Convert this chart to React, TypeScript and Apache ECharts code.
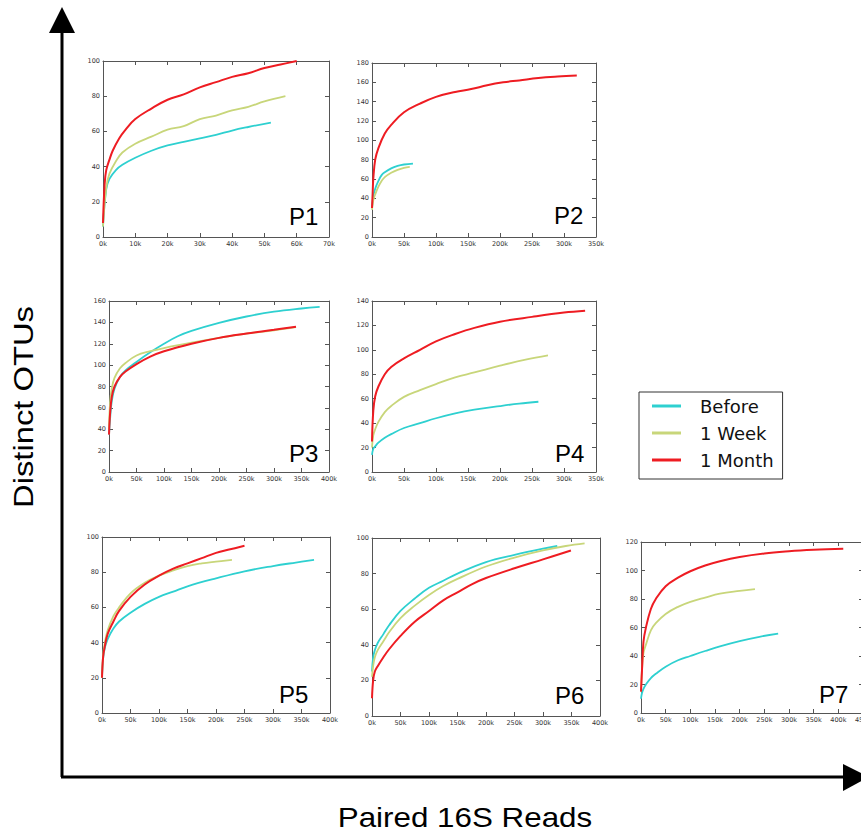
import React, { useEffect, useRef } from "react";
import * as echarts from "echarts";

// ---------- data (reads, distinct OTUs) ----------
const seriesNames = ["Before", "1 Week", "1 Month"];
const panelNames = ["P1", "P2", "P3", "P4", "P5", "P6", "P7"];
const xMaxes = [70000, 350000, 400000, 350000, 400000, 400000, 450000];
const xSteps = [10000, 50000, 50000, 50000, 50000, 50000, 50000];
const yMaxes = [100, 180, 160, 140, 100, 100, 120];
const ySteps = [20, 20, 20, 20, 20, 20, 20];

const p1Before = [[0,6],[1000,27],[2000,33],[4000,38],[6000,41],[10000,45],[15000,49],[20000,52],[25000,54],[30000,56],[35000,58],[40000,60.5],[45000,62.5],[52000,65]];
const p1Week = [[0,6],[1000,28],[2000,36],[4000,43],[6000,48],[10000,53],[15000,57],[20000,61],[25000,63],[30000,67],[35000,69],[40000,72],[45000,74],[50000,77],[56500,80]];
const p1Month = [[0,8],[500,30],[1000,38],[2000,44],[3000,49],[5000,56],[7000,61],[10000,67],[15000,73],[20000,78],[25000,81],[30000,85],[35000,88],[40000,91],[45000,93],[50000,96],[55000,98],[60000,100]];

const p2Before = [[0,30],[2000,42],[5000,50],[10000,58],[15000,64],[20000,67],[30000,71],[40000,73.5],[50000,75],[64000,76]];
const p2Week = [[0,28],[2000,38],[5000,44],[10000,52],[15000,58],[20000,62],[30000,66.5],[40000,69.5],[50000,71.5],[59000,72.5]];
const p2Month = [[0,30],[1000,45],[2000,60],[5000,80],[10000,92],[20000,107],[30000,116],[50000,129],[75000,138],[100000,145],[130000,150],[155000,153],[180000,157],[205000,160],[230000,162],[260000,164.5],[290000,166],[320000,167]];

const p3Before = [[0,35],[2000,50],[5000,66],[10000,78],[20000,89],[30000,95],[50000,103],[75000,112],[100000,120],[125000,127],[150000,132],[200000,139.5],[250000,145.5],[300000,150],[350000,153],[383000,154.5]];
const p3Week = [[0,40],[2000,65],[5000,78],[10000,88],[20000,97],[30000,102],[50000,109],[75000,113],[100000,116],[150000,121],[200000,125.5],[250000,129.5],[300000,132.5],[340000,135.5]];
const p3Month = [[0,35],[2000,55],[5000,70],[10000,80],[20000,89],[30000,94],[50000,101],[75000,108],[100000,113],[150000,120],[200000,125.5],[250000,129.5],[300000,133],[340000,136]];

const p4Before = [[0,14],[2000,19],[5000,21],[10000,24],[20000,28],[30000,31],[50000,36],[75000,40],[100000,44],[130000,48],[160000,51],[200000,54],[230000,56],[260000,57.5]];
const p4Week = [[0,20],[2000,30],[5000,35],[10000,41],[20000,49],[30000,54],[50000,61.5],[75000,67],[100000,72],[130000,77.5],[160000,81.5],[200000,87],[240000,92],[275000,95.5]];
const p4Month = [[0,25],[2000,50],[5000,62],[10000,70],[20000,80],[30000,86],[50000,93],[75000,100],[100000,107],[130000,113],[160000,118],[200000,123],[250000,127],[300000,130.5],[333000,132]];

const p5Before = [[0,20],[2000,31],[5000,37],[10000,42],[20000,48],[30000,52],[50000,57],[75000,62],[100000,66],[125000,69],[150000,72],[200000,76.5],[250000,80.5],[300000,83.5],[340000,85.5],[372000,87]];
const p5Week = [[0,20],[2000,33],[5000,40],[10000,47],[20000,55],[30000,60],[50000,68],[75000,74],[100000,78],[125000,81],[150000,83.5],[175000,85],[200000,86],[228000,87]];
const p5Month = [[0,20],[2000,32],[5000,38],[10000,45],[20000,52],[30000,58],[50000,66],[75000,73],[100000,78],[125000,82],[150000,85],[175000,88],[200000,91],[225000,93],[250000,95]];

const p6Before = [[0,25],[2000,33],[5000,37],[10000,41],[20000,46],[30000,51],[50000,59],[75000,66],[100000,72],[125000,76],[150000,80],[200000,86.5],[250000,90.5],[300000,94],[325000,95.5]];
const p6Week = [[0,22],[2000,28],[5000,33],[10000,37],[20000,42],[30000,47],[50000,55],[75000,62],[100000,68],[125000,73],[150000,77],[200000,84],[250000,89],[300000,93],[340000,95.5],[373000,97]];
const p6Month = [[0,10],[2000,20],[5000,25],[10000,28],[20000,33],[30000,37.5],[50000,45],[75000,53],[100000,59],[125000,65],[150000,69.5],[175000,74],[200000,77.5],[250000,83],[300000,88],[349000,93]];

const p7Before = [[0,10],[2000,14],[5000,17],[10000,20],[20000,24.5],[30000,27.5],[50000,32.5],[75000,37],[100000,40],[130000,43.5],[160000,46.8],[200000,50.5],[240000,53.5],[278000,55.7]];
const p7Week = [[0,15],[2000,30],[5000,42],[10000,48],[20000,58],[30000,63],[50000,69.5],[75000,74.5],[100000,78],[130000,81],[160000,83.7],[200000,85.7],[231000,87]];
const p7Month = [[0,15],[2000,30],[5000,50],[10000,60],[20000,73],[30000,80],[50000,89],[75000,95],[100000,99.5],[130000,103.5],[160000,106.5],[200000,109.5],[250000,112],[300000,113.5],[350000,114.5],[410000,115.3]];

const panelData = [
  [p1Before, p1Week, p1Month],
  [p2Before, p2Week, p2Month],
  [p3Before, p3Week, p3Month],
  [p4Before, p4Week, p4Month],
  [p5Before, p5Week, p5Month],
  [p6Before, p6Week, p6Month],
  [p7Before, p7Week, p7Month],
];

// ---------- layout / style ----------
const colors = ["#2ed0d0", "#c8d67a", "#ee1c22"];
const grids = [
  { left: 103, top: 61, width: 226, height: 176 },
  { left: 372, top: 63, width: 224, height: 174 },
  { left: 109, top: 301, width: 220, height: 171 },
  { left: 372, top: 301, width: 224, height: 171 },
  { left: 102, top: 537, width: 228, height: 176 },
  { left: 372, top: 538, width: 228, height: 178 },
  { left: 641, top: 542, width: 222, height: 171 },
];
const labelPos = [
  [289, 216], [554, 215], [289, 453], [555, 453], [279, 694], [555, 695], [819, 694],
];
const FONT = "Liberation Sans";

function buildOption() {
  const frame = { show: true, onZero: false, lineStyle: { color: "#555", width: 1 } };
  const tick = { show: true, inside: true, length: 4, lineStyle: { color: "#555", width: 1 } };
  const tickFont = { fontFamily: "DejaVu Sans", fontSize: 6.5, color: "#333" };
  const xAxis: any[] = [];
  const yAxis: any[] = [];
  const series: any[] = [];
  grids.forEach((g, i) => {
    const xBase = { type: "value", gridIndex: i, min: 0, max: xMaxes[i], interval: xSteps[i], splitLine: { show: false }, axisLine: frame, axisTick: tick };
    const yBase = { type: "value", gridIndex: i, min: 0, max: yMaxes[i], interval: ySteps[i], splitLine: { show: false }, axisLine: frame, axisTick: tick };
    xAxis[i] = { ...xBase, position: "bottom", axisLabel: { ...tickFont, margin: 3, formatter: (v: number) => `${Math.round(v / 1000)}k` } };
    yAxis[i] = { ...yBase, position: "left", axisLabel: { ...tickFont, margin: 3 } };
    xAxis[i + 7] = { ...xBase, position: "top", axisLabel: { show: false } };
    yAxis[i + 7] = { ...yBase, position: "right", axisLabel: { show: false } };
    panelData[i].forEach((d, s) => {
      series.push({
        type: "line",
        name: seriesNames[s],
        xAxisIndex: i,
        yAxisIndex: i,
        data: d,
        showSymbol: false,
        smooth: 0.4,
        color: colors[s],
        lineStyle: { color: colors[s], width: s === 2 ? 2 : 1.8 },
        z: 2 + s,
      });
    });
  });

  const graphic: any[] = [
    { type: "line", shape: { x1: 62, y1: 30, x2: 62, y2: 777 }, style: { stroke: "#000", lineWidth: 3 } },
    { type: "polygon", shape: { points: [[49, 33], [75, 33], [62, 7]] }, style: { fill: "#000" } },
    { type: "line", shape: { x1: 61, y1: 777, x2: 845, y2: 777 }, style: { stroke: "#000", lineWidth: 3 } },
    { type: "polygon", shape: { points: [[843, 764], [843, 791], [869, 777]] }, style: { fill: "#000" } },
    {
      type: "text", x: 465, y: 817, scaleX: 1.12,
      style: { text: "Paired 16S Reads", fontFamily: FONT, fontSize: 28, fill: "#000", textAlign: "center", textVerticalAlign: "middle" },
    },
    {
      type: "text", x: 23, y: 407, rotation: Math.PI / 2, scaleX: 1.17,
      style: { text: "Distinct OTUs", fontFamily: FONT, fontSize: 28, fill: "#000", textAlign: "center", textVerticalAlign: "middle" },
    },
  ];
  panelNames.forEach((n, i) => {
    graphic.push({
      type: "text", x: labelPos[i][0], y: labelPos[i][1],
      style: { text: n, fontFamily: FONT, fontSize: 24, fill: "#000", textAlign: "left", textVerticalAlign: "middle" },
    });
  });

  return {
    animation: false,
    backgroundColor: "#fff",
    grid: grids.map((g) => ({ ...g, outerBoundsMode: "none", containLabel: false })),
    xAxis,
    yAxis,
    series,
    legend: {
      left: 639, top: 392, orient: "vertical", data: seriesNames,
      icon: "rect", itemWidth: 29, itemHeight: 3, itemGap: 7,
      padding: [4, 9, 9, 13],
      borderColor: "#333", borderWidth: 1, borderRadius: 0,
      textStyle: { fontFamily: "DejaVu Sans", fontSize: 18, color: "#111", lineHeight: 20, padding: [0, 0, 0, 14] },
    },
    graphic,
  };
}

export default function App() {
  const ref = useRef<HTMLDivElement>(null);
  useEffect(() => {
    document.body.style.margin = "0";
    if (!ref.current) return;
    const chart = echarts.init(ref.current, null, { renderer: "svg" });
    chart.setOption(buildOption() as any);
    return () => chart.dispose();
  }, []);
  return <div ref={ref} style={{ width: 861, height: 834, overflow: "hidden" }} />;
}
